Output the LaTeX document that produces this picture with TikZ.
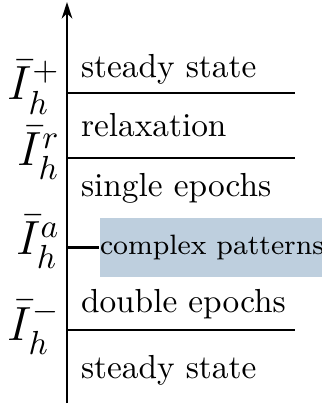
\documentclass[tikz,border=0pt]{standalone}
\definecolor{regimeBlue}{RGB}{190,207,222}
\usepackage{amsmath,amssymb}
\usetikzlibrary{arrows.meta,positioning}

\begin{document}
\begin{tikzpicture}[x=0.3pt, y=-0.3pt, line width=0.6pt,
    every node/.style={inner sep=0pt},
    regime/.style={anchor=base west, font=\normalsize},
    level/.style={anchor=base east, font=\Large}]
  \useasboundingbox (0,0) rectangle (321,408);

  % axis
  \coordinate (axbot) at (67,403);
  \coordinate (axtop) at (67,2);
  \draw[-{Stealth[length=5pt, width=3.2pt]}] (axbot) -- (axtop);

  % thresholds
  \coordinate (lplus) at (67,93);   \coordinate (lplusend) at (295,93);
  \coordinate (lrel)  at (67,158);  \coordinate (lrelend)  at (295,158);
  \coordinate (lcplx) at (67,248);
  \coordinate (lminus) at (67,330); \coordinate (lminusend) at (295,330);

  \draw (lplus) -- (lplusend);
  \draw (lrel) -- (lrelend);
  \draw (lminus) -- (lminusend);

  \node[level] (Iplus)  at (61,100) {$\bar{I}_h^{+}$};
  \node[level] (Irel)   at (61,166) {$\bar{I}_h^{r}$};
  \node[level] (Icplx)  at (61,255) {$\bar{I}_h^{a}$};
  \node[level] (Iminus) at (61,340) {$\bar{I}_h^{-}$};

  % complex regime box
  \node[fill=regimeBlue, anchor=west, minimum width=66.3pt, minimum height=17.7pt,
        font=\fontsize{8.4}{10}\selectfont]
    (cplx) at (99,248) {complex patterns};
  \draw[line width=0.9pt] (lcplx) -- (cplx.west);

  % regimes
  \node[regime] (ssup)   at (80,78)  {steady state};
  \node[regime] (relax)  at (80,137) {relaxation};
  \node[regime] (single) at (80,197) {single epochs};
  \node[regime] (double) at (80,313) {double epochs};
  \node[regime] (ssdown) at (80,378) {steady state};
\end{tikzpicture}
\end{document}
